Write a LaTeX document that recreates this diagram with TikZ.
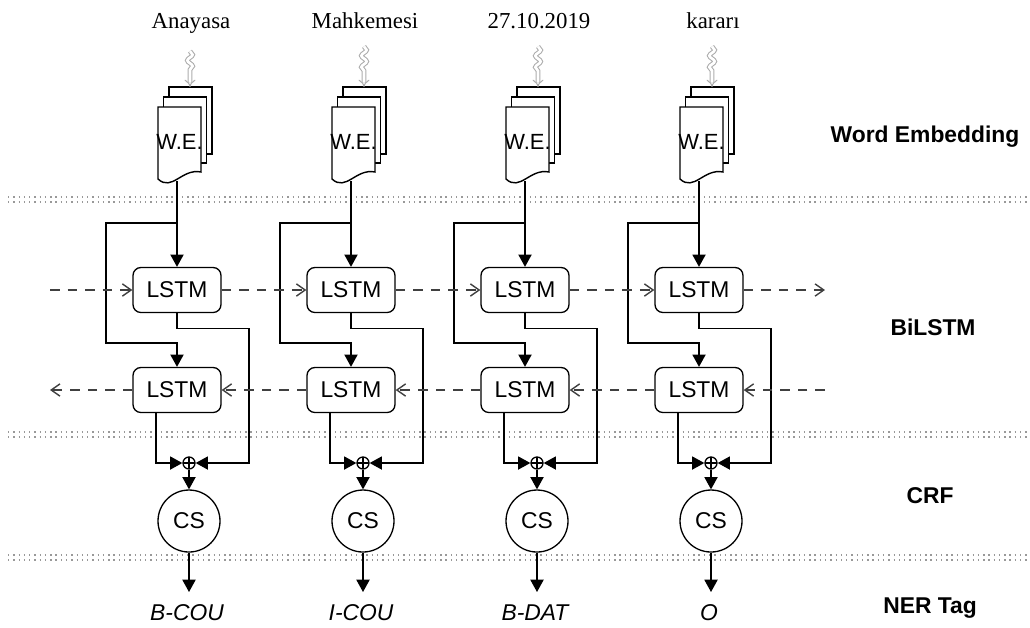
\documentclass[tikz,border=0pt]{standalone}
\usepackage{fontspec}
\setmainfont{Liberation Serif}
\setsansfont{Liberation Sans}
\usetikzlibrary{arrows.meta}
\usetikzlibrary{calc}
\usetikzlibrary{decorations.pathmorphing}
\tikzset{
	lstm/.style = {
		draw,
		rounded corners=4.5pt,
		line width=0.75pt,
		minimum width=1.76cm,
		minimum height=0.9cm,
		inner sep=0pt,
		font=\sffamily\fontsize{13}{15}\selectfont
	},
	csnode/.style = {
		draw,
		circle,
		line width=0.75pt,
		minimum size=1.24cm,
		inner sep=0pt,
		font=\sffamily\fontsize{13}{15}\selectfont
	},
	oplus/.style = {
		draw,
		circle,
		line width=0.75pt,
		minimum size=0.24cm,
		inner sep=0pt,
		path picture={
			\draw[line width=0.6pt] (path picture bounding box.north) -- (path picture bounding box.south)
				(path picture bounding box.west) -- (path picture bounding box.east);
		}
	},
	page/.style = {
		draw,
		fill=white,
		line width=0.8pt
	},
	word/.style = {
		anchor=base,
		font=\fontsize{13}{15}\selectfont
	},
	tag/.style = {
		font=\sffamily\itshape\fontsize{13}{15}\selectfont
	},
	layer/.style = {
		font=\sffamily\bfseries\fontsize{13}{15}\selectfont
	},
	sep/.style = {
		gray!80,
		line width=0.8pt,
		dash pattern=on 0.8pt off 2.2pt
	},
	flow/.style = {
		draw=black!75,
		line width=0.8pt,
		dash pattern=on 5.5pt off 4.5pt,
		-{Straight Barb[length=5pt,width=7pt]}
	},
	link/.style = {
		line width=0.75pt,
		-{Triangle[length=7pt,width=7.5pt]}
	},
	squig/.style = {
		draw=gray!65,
		double=white,
		double distance=1.5pt,
		line width=0.6pt,
		decorate,
		decoration={snake, amplitude=1.5pt, segment length=6.5pt, post length=7pt},
		-{Implies}
	}
}

\begin{document}
\begin{tikzpicture}[x=0.02cm, y=-0.02cm]
\useasboundingbox (0,0) rectangle (1030,627);

% layer borders
\foreach \y in {197,432,555} {
	\draw[sep] (8,\y) -- (1028,\y);
	\draw[sep] (8,\y+5) -- (1028,\y+5);
}

% one column per word
\foreach \c/\w/\t [count=\i] in {177/Anayasa/B-COU, 351/Mahkemesi/I-COU, 525/27.10.2019/B-DAT, 699/kararı/O} {
	\node[word] (w\i) at (\c+14,28) {\w};
	% embedding pages
	\draw[page] (\c-8,87) rectangle (\c+35,154);
	\draw[page] (\c-13.5,97) rectangle (\c+29.5,163);
	\draw[page] (\c-19,107) -- (\c+24,107) -- (\c+24,172)
		.. controls (\c+5,168) and (\c-5,192) .. (\c-19,179) -- cycle;
	\node[font=\sffamily\fontsize{12.5}{14}\selectfont] (e\i) at (\c+2.5,142) {W.E.};
	\coordinate (p\i) at (\c+13,87);
	\coordinate (d\i) at (\c,181);
	\draw[squig] ($(w\i.south -| p\i)+(0,12)$) -- (p\i);

	\node[lstm] (f\i) at (\c,290) {LSTM};
	\node[lstm] (b\i) at (\c,390) {LSTM};
	\node[oplus] (o\i) at (\c+12,463) {};
	\node[csnode] (s\i) at (\c+12,521) {CS};
	\node[tag] (t\i) at (\c+10,613) {\t};

	\draw[link] (d\i) -- (f\i.north);
	\draw[link] (d\i) ++(0,42) -| ++(-71,120) -| (b\i.north);
	\draw[link] (f\i.south) -- ++(0,15) -- ++(72,0) |- (o\i.east);
	\draw[link] ($(b\i.south)+(-21,0)$) |- (o\i.west);
	\draw[link] (o\i) -- (s\i);
	\draw[link] (s\i) -- (s\i.south |- 0,592);
}

% recurrent flow
\coordinate (fin) at (50,290);
\coordinate (fout) at (825,290);
\coordinate (bin) at (825,390);
\coordinate (bout) at (50,390);
\draw[flow] (fin) -- (f1);
\draw[flow] (bin) -- (b4);
\foreach \i/\j in {1/2,2/3,3/4} {
	\draw[flow] (f\i) -- (f\j);
	\draw[flow] (b\j) -- (b\i);
}
\draw[flow] (f4) -- (fout);
\draw[flow] (b1) -- (bout);

% layer names
\node[layer] (lwe) at (925,137) {Word Embedding};
\node[layer] (lbi) at (933,327) {BiLSTM};
\node[layer] (lcrf) at (930,496) {CRF};
\node[layer] (lner) at (930,608) {NER Tag};
\end{tikzpicture}
\end{document}
